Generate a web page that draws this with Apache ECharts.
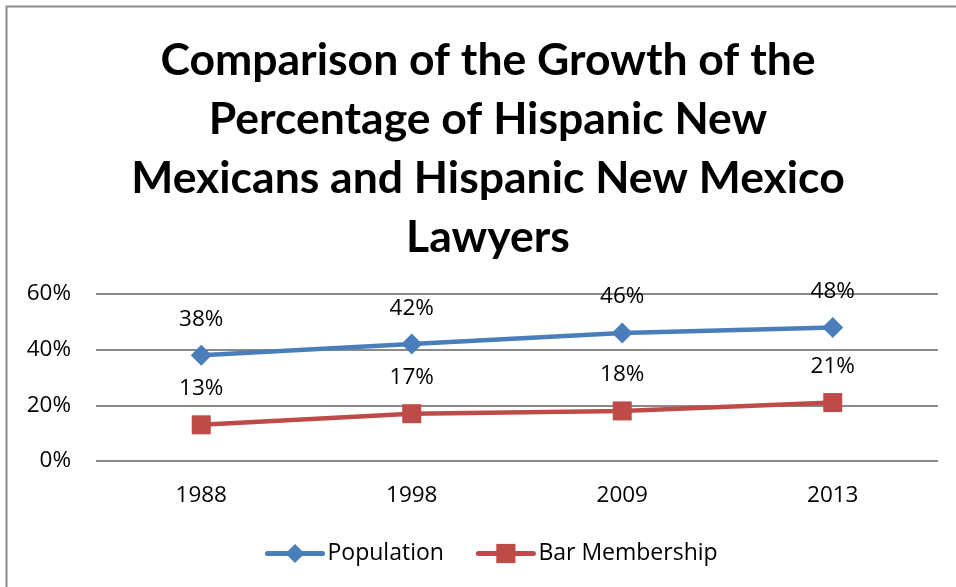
<!DOCTYPE html>
<html>
<head>
<meta charset="utf-8">
<script src="https://cdn.jsdelivr.net/npm/echarts@6/dist/echarts.min.js"></script>
<style>
  html, body { margin: 0; padding: 0; background: #fff; }
  #chart { width: 956px; height: 587px; }
</style>
</head>
<body>
<div id="chart"></div>
<script>
// Survey years and percentage shares
const years = ['1988', '1998', '2009', '2013'];
const population = [38, 42, 46, 48];
const barMembership = [13, 17, 18, 21];
const yTicks = [0, 20, 40, 60];

const titleFont = 'Lato, "Open Sans", sans-serif';
const font = '"Open Sans", Lato, sans-serif';
const textSize = 22.5;

const chart = echarts.init(document.getElementById('chart'));
chart.setOption({
  backgroundColor: '#fff',
  animation: false,
  graphic: [{
    type: 'rect',
    shape: { x: 6.5, y: 6.5, width: 1000, height: 1000 },
    style: { fill: 'none', stroke: '#8c8c8c', lineWidth: 2 },
    silent: true
  }],
  title: {
    text: 'Comparison of the Growth of the\nPercentage of Hispanic New\nMexicans and Hispanic New Mexico\nLawyers',
    left: 483,
    textAlign: 'center',
    top: 26,
    textStyle: {
      fontFamily: titleFont,
      fontWeight: 'bold',
      fontSize: 44.5,
      lineHeight: 59,
      color: '#000'
    }
  },
  legend: {
    bottom: 17,
    left: 260,
    itemWidth: 55,
    itemHeight: 24,
    itemGap: 32,
    lineStyle: { width: 5 },
    textStyle: { fontFamily: font, fontSize: 23, color: '#000' },
    data: ['Population', 'Bar Membership']
  },
  grid: { left: 96, right: 18, top: 294, bottom: 126 },
  xAxis: {
    type: 'category',
    data: years,
    boundaryGap: true,
    axisLine: { show: false },
    axisTick: { show: false },
    axisLabel: { fontFamily: font, fontSize: textSize, color: '#000', margin: 23 }
  },
  yAxis: {
    type: 'value',
    min: yTicks[0],
    max: yTicks[yTicks.length - 1],
    interval: 20,
    axisLine: { show: false },
    axisTick: { show: false },
    axisLabel: {
      fontFamily: font, fontSize: textSize, color: '#000', margin: 25,
      formatter: v => v + '%'
    },
    splitLine: { lineStyle: { color: '#8a8a8a', width: 2 } }
  },
  series: [
    {
      name: 'Population',
      type: 'line',
      data: population,
      color: '#4a7ebb',
      symbol: 'diamond',
      symbolSize: 21,
      lineStyle: { width: 4.5, color: '#4a7ebb', cap: 'round' },
      itemStyle: { color: '#4a7ebb' },
      label: {
        show: true, position: 'top', distance: 14,
        fontFamily: font, fontSize: textSize, color: '#000',
        formatter: p => p.value + '%'
      }
    },
    {
      name: 'Bar Membership',
      type: 'line',
      data: barMembership,
      color: '#be4b48',
      symbol: 'rect',
      symbolSize: 19,
      lineStyle: { width: 4.5, color: '#be4b48', cap: 'round' },
      itemStyle: { color: '#be4b48' },
      label: {
        show: true, position: 'top', distance: 15,
        fontFamily: font, fontSize: textSize, color: '#000',
        formatter: p => p.value + '%'
      }
    }
  ]
});
</script>
</body>
</html>
